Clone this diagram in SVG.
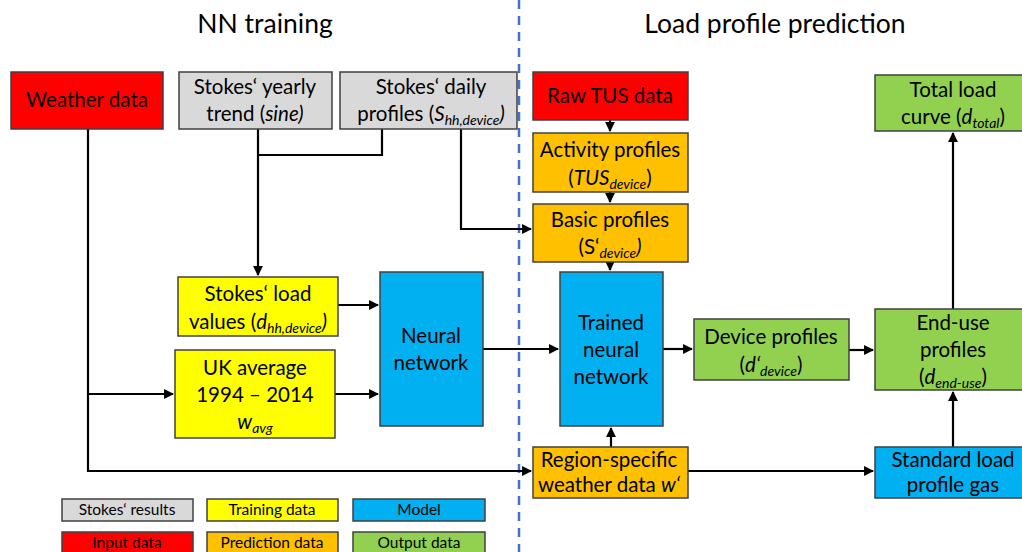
<svg xmlns="http://www.w3.org/2000/svg" width="1022" height="552" viewBox="0 0 1022 552">
<defs>
<marker id="ah" viewBox="0 0 10 10" refX="9" refY="5" markerWidth="4.5" markerHeight="4.5" orient="auto" markerUnits="strokeWidth">
<path d="M0,0 L10,5 L0,10 z" fill="#000"/>
</marker>
</defs>
<style>
text{font-family:Lato,"Liberation Sans",sans-serif;fill:#000;text-anchor:middle}
.t{font-size:20.5px}
.h{font-size:26.5px}
.l{font-size:15.5px}
.s{font-size:14px;font-style:italic}
.i{font-style:italic}
rect{stroke:#404040;stroke-width:1.5}
.red{fill:#FF0000}.gray{fill:#D9D9D9}.yel{fill:#FFFF00}.blue{fill:#00B0F0}.ora{fill:#FFC000}.grn{fill:#92D050}
.c{fill:none;stroke:#000;stroke-width:2.2}
.a{marker-end:url(#ah)}
</style>
<rect width="1022" height="552" fill="#fff" style="stroke:none"/>
<text class="h" x="265" y="33">NN training</text>
<text class="h" x="775" y="33">Load profile prediction</text>
<line x1="519" y1="0" x2="519" y2="552" stroke="#4472C4" stroke-width="2.5" stroke-dasharray="9,7"/>

<g id="connectors">
<path class="c a" d="M88 129 V471 H531"/>
<path class="c a" d="M88 394 H173"/>
<path class="c a" d="M258 129 V275"/>
<path class="c" d="M382 129 V155 H258"/>
<path class="c a" d="M461 129 V229 H531"/>
<path class="c a" d="M610 120 V131"/>
<path class="c a" d="M610 192 V202"/>
<path class="c a" d="M610 262 V270"/>
<path class="c a" d="M338 305 H378"/>
<path class="c a" d="M335 394 H378"/>
<path class="c a" d="M483 349 H558"/>
<path class="c a" d="M663 349 H692"/>
<path class="c a" d="M849 350 H873"/>
<path class="c a" d="M611 447 V428"/>
<path class="c a" d="M688 471 H873"/>
<path class="c a" d="M953 447 V392"/>
<path class="c a" d="M953 309 V133"/>
</g>

<g id="weather"><rect class="red" x="11" y="72" width="152" height="57"/><text class="t" x="87" y="107">Weather data</text></g>
<g id="yearly"><rect class="gray" x="179" y="72" width="153" height="57"/><text class="t" x="255" y="94">Stokes‘ yearly</text><text class="t" x="255" y="121">trend (<tspan class="i">sine)</tspan></text></g>
<g id="daily"><rect class="gray" x="340" y="72" width="177" height="57"/><text class="t" x="431" y="94">Stokes‘ daily</text><text class="t" x="431" y="121">profiles (<tspan class="i">S</tspan><tspan class="s" dy="4">hh,device</tspan><tspan class="i" dy="-4">)</tspan></text></g>
<g id="rawtus"><rect class="red" x="533" y="72" width="155" height="48"/><text class="t" x="610" y="103">Raw TUS data</text></g>
<g id="activity"><rect class="ora" x="533" y="133" width="155" height="59"/><text class="t" x="610" y="157">Activity profiles</text><text class="t" x="610" y="185">(<tspan class="i">TUS</tspan><tspan class="s" dy="4">device</tspan><tspan dy="-4">)</tspan></text></g>
<g id="basic"><rect class="ora" x="533" y="204" width="155" height="58"/><text class="t" x="610" y="227">Basic profiles</text><text class="t" x="610" y="254">(S‘<tspan class="s" dy="4">device</tspan><tspan class="i" dy="-4">)</tspan></text></g>
<g id="total"><rect class="grn" x="875" y="75" width="150" height="56"/><text class="t" x="953" y="97">Total load</text><text class="t" x="953" y="124">curve (<tspan class="i">d</tspan><tspan class="s" dy="4">total</tspan><tspan dy="-4">)</tspan></text></g>
<g id="stokesload"><rect class="yel" x="178" y="277" width="160" height="59"/><text class="t" x="258" y="301">Stokes‘ load</text><text class="t" x="258" y="329">values (<tspan class="i">d</tspan><tspan class="s" dy="4">hh,device</tspan><tspan class="i" dy="-4">)</tspan></text></g>
<g id="ukavg"><rect class="yel" x="175" y="350" width="160" height="88"/><text class="t" x="255" y="375">UK average</text><text class="t" x="255" y="402">1994 – 2014</text><text class="t" x="255" y="429"><tspan class="i">w</tspan><tspan class="s" dy="4">avg</tspan></text></g>
<g id="nn"><rect class="blue" x="380" y="272" width="103" height="154"/><text class="t" x="431" y="343">Neural</text><text class="t" x="431" y="370">network</text></g>
<g id="trained"><rect class="blue" x="560" y="272" width="103" height="154"/><text class="t" x="611" y="330">Trained</text><text class="t" x="611" y="357">neural</text><text class="t" x="611" y="384">network</text></g>
<g id="device"><rect class="grn" x="694" y="319" width="155" height="61"/><text class="t" x="771" y="344">Device profiles</text><text class="t" x="771" y="372">(<tspan class="i">d‘</tspan><tspan class="s" dy="4">device</tspan><tspan dy="-4">)</tspan></text></g>
<g id="enduse"><rect class="grn" x="875" y="309" width="150" height="81"/><text class="t" x="953" y="330">End-use</text><text class="t" x="953" y="357">profiles</text><text class="t" x="953" y="384">(<tspan class="i">d</tspan><tspan class="s" dy="4">end-use</tspan><tspan dy="-4">)</tspan></text></g>
<g id="region"><rect class="ora" x="533" y="447" width="155" height="51"/><text class="t" x="609" y="467">Region-specific</text><text class="t" x="609" y="492">weather data <tspan class="i">w‘</tspan></text></g>
<g id="standard"><rect class="blue" x="875" y="447" width="150" height="51"/><text class="t" x="953" y="467">Standard load</text><text class="t" x="953" y="492">profile gas</text></g>

<g id="legend">
<rect class="gray" x="62" y="499" width="131" height="22"/><text class="l" x="127" y="515">Stokes‘ results</text>
<rect class="yel" x="207" y="499" width="131" height="22"/><text class="l" x="272" y="515">Training data</text>
<rect class="blue" x="353" y="499" width="132" height="22"/><text class="l" x="419" y="515">Model</text>
<rect class="red" x="62" y="532" width="131" height="24"/><text class="l" x="127" y="548">Input data</text>
<rect class="ora" x="207" y="532" width="131" height="24"/><text class="l" x="272" y="548">Prediction data</text>
<rect class="grn" x="353" y="532" width="132" height="24"/><text class="l" x="419" y="548">Output data</text>
</g>
</svg>
